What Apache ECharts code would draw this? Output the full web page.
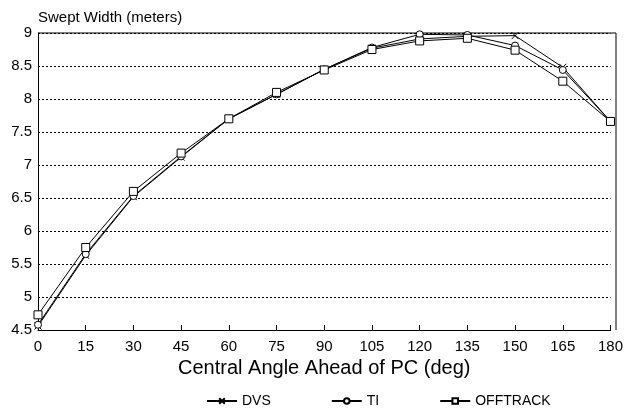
<!DOCTYPE html>
<html>
<head>
<meta charset="utf-8">
<script src="https://cdn.jsdelivr.net/npm/echarts@6/dist/echarts.min.js"></script>
<style>
  html, body { margin: 0; padding: 0; background: #fff; }
  #chart { width: 626px; height: 416px; }
</style>
</head>
<body>
<div id="chart"></div>
<script>
// angles (deg)
const angles = ['0', '15', '30', '45', '60', '75', '90', '105', '120', '135', '150', '165', '180'];
// swept width (meters) per model
const dvs = [4.56, 5.63, 6.52, 7.12, 7.70, 8.07, 8.45, 8.77, 8.91, 8.95, 8.96, 8.48, 7.66];
const ti = [4.58, 5.65, 6.53, 7.13, 7.70, 8.07, 8.45, 8.78, 8.98, 8.97, 8.81, 8.44, 7.66];
const offtrack = [4.73, 5.75, 6.60, 7.18, 7.70, 8.10, 8.44, 8.75, 8.88, 8.92, 8.74, 8.27, 7.66];

const font = 'Liberation Sans, Arial, sans-serif';
const crossPath = 'path://M0,0L10,10M10,0L0,10';

// 画图
let myChart = echarts.init(document.getElementById('chart'));

function mkSeries(name, data, symbol, size) {
  return {
    name: name,
    type: 'line',
    data: data,
    symbol: symbol,
    symbolSize: size,
    showAllSymbol: true,
    lineStyle: { color: '#000', width: 1 },
    itemStyle: { color: '#fff', borderColor: '#000', borderWidth: 1 },
    emphasis: { disabled: true },
    animation: false
  };
}

let option = {
  backgroundColor: '#fff',
  grid: { left: 38, right: 10, top: 33, bottom: 86 },
  legend: {
    bottom: 3,
    left: 201,
    itemWidth: 30,
    itemHeight: 7,
    itemGap: 60,
    textStyle: { fontFamily: font, fontSize: 14, color: '#000' },
    data: ['DVS', 'TI', 'OFFTRACK']
  },
  xAxis: {
    type: 'category',
    boundaryGap: false,
    data: angles,
    name: 'Central Angle Ahead of PC (deg)',
    nameLocation: 'middle',
    nameGap: 27,
    nameTextStyle: { fontFamily: font, fontSize: 20, color: '#000' },
    axisLine: { lineStyle: { color: '#000', width: 1 } },
    axisTick: { show: true, inside: true, length: 5, lineStyle: { color: '#000' } },
    axisLabel: { fontFamily: font, fontSize: 15, color: '#000', margin: 9, interval: 0 },
    splitLine: { show: false }
  },
  yAxis: {
    type: 'value',
    min: 4.5,
    max: 9,
    interval: 0.5,
    name: 'Swept Width (meters)',
    nameLocation: 'end',
    nameGap: 8,
    nameTextStyle: { fontFamily: font, fontSize: 15, color: '#000', align: 'left' },
    axisLine: { show: true, lineStyle: { color: '#000', width: 1 } },
    axisTick: { show: false },
    axisLabel: { fontFamily: font, fontSize: 15, color: '#000', margin: 6 },
    splitLine: { show: true, lineStyle: { color: '#000', type: [2, 2], width: 1 } }
  },
  graphic: [
    // top and right frame
    { type: 'line', shape: { x1: 38, y1: 33, x2: 616, y2: 33 }, style: { stroke: '#000', lineWidth: 1 } },
    { type: 'line', shape: { x1: 616, y1: 33, x2: 616, y2: 330 }, style: { stroke: '#000', lineWidth: 1 } }
  ],
  series: [
    mkSeries('DVS', dvs, crossPath, 7),
    mkSeries('TI', ti, 'circle', 7),
    mkSeries('OFFTRACK', offtrack, 'rect', 8)
  ]
};
myChart.setOption(option);
</script>
</body>
</html>
